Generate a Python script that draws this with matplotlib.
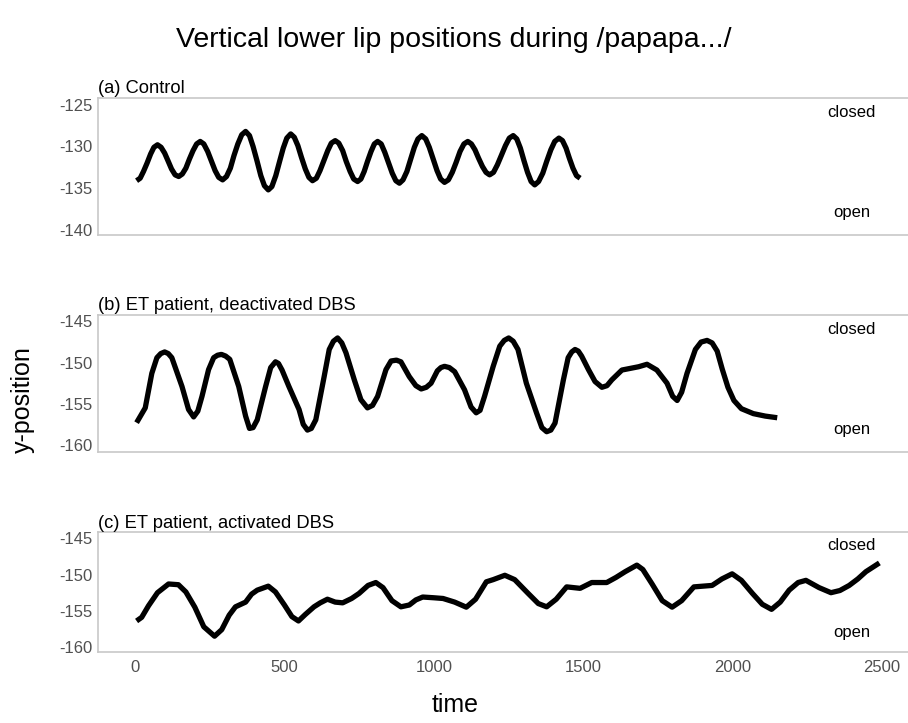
import matplotlib
matplotlib.use('Agg')
import matplotlib.pyplot as plt

plt.rcParams['font.family'] = ['Liberation Sans', 'DejaVu Sans']
plt.rcParams['axes.unicode_minus'] = False

# (a) control speaker
a_time = [5, 17, 28, 40, 52, 63,
          75, 87, 99, 110, 122, 134,
          146, 158, 170, 182, 194, 206,
          218, 230, 243, 255, 268, 280,
          293, 306, 319, 331, 344, 357,
          370, 383, 395, 408, 421, 433,
          446, 458, 471, 483, 496, 508,
          521, 533, 545, 557, 570, 582,
          594, 607, 619, 632, 645, 657,
          670, 682, 695, 707, 720, 732,
          745, 756, 767, 778, 790, 801,
          812, 824, 836, 848, 861, 873,
          885, 897, 910, 922, 935, 947,
          960, 973, 985, 998, 1011, 1023,
          1036, 1049, 1062, 1075, 1088, 1101,
          1114, 1126, 1138, 1150, 1163, 1175,
          1187, 1200, 1213, 1226, 1240, 1253,
          1266, 1278, 1290, 1302, 1314, 1326,
          1338, 1351, 1365, 1378, 1392, 1405,
          1419, 1431, 1443, 1454, 1466, 1478,
          1490]
a_pos = [-134.1, -133.8, -133.0, -132.0, -130.9, -130.1,
         -129.8, -130.1, -130.8, -131.7, -132.7, -133.4,
         -133.6, -133.3, -132.6, -131.5, -130.5, -129.7,
         -129.4, -129.7, -130.6, -131.7, -132.9, -133.7,
         -134.0, -133.6, -132.6, -131.1, -129.7, -128.6,
         -128.2, -128.7, -130.0, -131.7, -133.5, -134.7,
         -135.2, -134.8, -133.5, -131.9, -130.2, -129.0,
         -128.5, -128.9, -129.9, -131.3, -132.7, -133.7,
         -134.1, -133.8, -132.9, -131.7, -130.5, -129.6,
         -129.3, -129.6, -130.5, -131.8, -133.0, -133.9,
         -134.2, -133.9, -133.0, -131.8, -130.6, -129.7,
         -129.4, -129.7, -130.7, -131.9, -133.2, -134.1,
         -134.4, -134.0, -133.0, -131.6, -130.1, -129.1,
         -128.7, -129.1, -130.1, -131.5, -132.9, -133.9,
         -134.3, -134.0, -133.1, -131.9, -130.6, -129.7,
         -129.4, -129.7, -130.4, -131.4, -132.4, -133.1,
         -133.4, -133.1, -132.2, -131.1, -129.9, -129.0,
         -128.7, -129.1, -130.2, -131.7, -133.1, -134.2,
         -134.6, -134.2, -133.2, -131.8, -130.4, -129.4,
         -129.0, -129.3, -130.2, -131.4, -132.6, -133.5,
         -133.8]

# (b) ET patient, DBS off
b_time = [5, 34, 56, 73, 86, 99, 111, 123, 157, 179, 196, 210, 224, 246, 263, 276, 289, 303, 317,
          347, 370, 383, 395, 409, 437, 454, 470, 480, 492, 515, 549, 563, 577, 590, 605, 633, 650,
          664, 678, 692, 706, 734, 756, 778, 795, 812, 840, 857, 875, 890, 918, 940, 958, 975, 991,
          1012, 1024, 1036, 1052, 1070, 1103, 1125, 1142, 1155, 1170, 1199, 1221, 1236, 1251, 1266,
          1282, 1310, 1344, 1362, 1378, 1392, 1406, 1434, 1450, 1462, 1473, 1484, 1495, 1518, 1540,
          1563, 1580, 1596, 1630, 1686, 1714, 1747, 1781, 1800, 1815, 1830, 1848, 1876, 1895, 1915,
          1932, 1949, 1966, 1985, 2005, 2030, 2070, 2110, 2150]
b_pos = [-157.3, -155.5, -151.3, -149.4, -148.9, -148.7, -148.9, -149.4, -152.9, -155.7, -156.6,
         -155.9, -154.1, -150.85, -149.4, -149.1, -149.0, -149.2, -149.6, -152.9, -156.5, -158.0,
         -157.9, -156.95, -152.9, -150.6, -149.9, -150.1, -150.9, -152.9, -155.7, -157.5, -158.2,
         -158.0, -156.95, -151.7, -148.4, -147.4, -147.0, -147.6, -148.8, -152.1, -154.5, -155.5,
         -155.2, -154.1, -150.85, -149.8, -149.7, -149.9, -151.7, -152.8, -153.2, -153.0, -152.5,
         -151.0, -150.6, -150.45, -150.6, -151.1, -153.3, -155.4, -156.1, -155.8, -154.1, -150.45,
         -148.0, -147.3, -147.0, -147.4, -148.4, -152.5, -156.1, -157.9, -158.4, -158.2, -157.35,
         -152.1, -149.4, -148.7, -148.4, -148.6, -149.2, -150.85, -152.3, -153.0, -152.8, -152.1,
         -150.9, -150.5, -150.2, -150.9, -152.5, -154.1, -154.6, -153.6, -151.3, -148.4, -147.5,
         -147.3, -147.6, -148.6, -150.8, -153.0, -154.6, -155.6, -156.2, -156.5, -156.7]

# (c) ET patient, DBS on
c_time = [5, 22, 45, 75, 112, 145, 170, 200, 230, 266, 290, 315, 336, 370, 390, 409, 446, 470, 500,
          525, 547, 570, 599, 620, 644, 670, 695, 725, 750, 780, 806, 830, 860, 890, 918, 940, 963,
          1000, 1031, 1070, 1109, 1140, 1176, 1199, 1238, 1271, 1316, 1350, 1378, 1410, 1445, 1490,
          1529, 1579, 1610, 1641, 1680, 1700, 1731, 1765, 1798, 1830, 1871, 1932, 1965, 1999, 2030,
          2067, 2100, 2131, 2160, 2190, 2220, 2246, 2290, 2330, 2360, 2391, 2420, 2447, 2492]
c_pos = [-156.4, -155.9, -154.3, -152.5, -151.3, -151.4, -152.4, -154.5, -157.2, -158.5, -157.6,
         -155.6, -154.45, -153.8, -152.7, -152.15, -151.6, -152.4, -154.2, -155.8, -156.4, -155.5,
         -154.45, -153.9, -153.4, -153.8, -153.9, -153.3, -152.6, -151.5, -151.1, -151.8, -153.6,
         -154.45, -154.2, -153.5, -153.1, -153.2, -153.3, -153.8, -154.5, -153.4, -151.0, -150.7,
         -150.1, -150.7, -152.6, -154.0, -154.45, -153.4, -151.7, -151.9, -151.1, -151.1, -150.4,
         -149.6, -148.7, -149.3, -151.3, -153.6, -154.5, -153.6, -151.7, -151.5, -150.6, -149.9,
         -150.8, -152.6, -154.1, -154.8, -153.8, -152.15, -151.1, -150.8, -151.8, -152.5, -152.2,
         -151.5, -150.6, -149.6, -148.4]

panel_titles = ['(a) Control', '(b) ET patient, deactivated DBS', '(c) ET patient, activated DBS']
panel_ticks = [[-125, -130, -135, -140], [-145, -150, -155, -160], [-145, -150, -155, -160]]
panel_ylims = [(-140.6, -124.15), (-160.85, -144.15), (-160.7, -144.15)]
time_ticks = [0, 500, 1000, 1500, 2000, 2500]

series = [(a_time, a_pos), (b_time, b_pos), (c_time, c_pos)]
boxes = [[0.108, 0.675, 0.895, 0.19], [0.108, 0.375, 0.895, 0.19], [0.108, 0.098, 0.895, 0.166]]

fig = plt.figure(figsize=(9.08, 7.23), dpi=100)
grey = '#c8c8c8'

for i in range(3):
    ax = fig.add_axes(boxes[i])
    t, y = series[i]
    ax.plot(t, y, color='black', lw=3.8, solid_joinstyle='round', solid_capstyle='butt')
    ax.set_xlim(-124, 2597)
    ax.set_ylim(*panel_ylims[i])
    ax.set_yticks(panel_ticks[i])
    ax.set_xticks(time_ticks)
    ax.tick_params(length=0, labelsize=12, labelcolor='#505050', pad=4)
    if i < 2:
        ax.tick_params(axis='x', labelbottom=False)
    else:
        ax.tick_params(axis='x', pad=6)
    ax.spines['right'].set_visible(False)
    for s in ['left', 'top', 'bottom']:
        ax.spines[s].set_color(grey)
        ax.spines[s].set_linewidth(1.2)
    ax.set_title(panel_titles[i], loc='left', fontsize=13.2, pad=3)
    ax.text(0.927, 0.89, 'closed', transform=ax.transAxes, ha='center', va='center', fontsize=12)
    ax.text(0.927, 0.16, 'open', transform=ax.transAxes, ha='center', va='center', fontsize=12)

fig.text(0.5, 0.945, 'Vertical lower lip positions during /papapa.../', ha='center', va='center', fontsize=20.5)
fig.text(0.025, 0.447, 'y-position', rotation=90, ha='center', va='center', fontsize=18)
fig.text(0.501, 0.025, 'time', ha='center', va='center', fontsize=18)

fig.savefig('out.png', dpi=100)
